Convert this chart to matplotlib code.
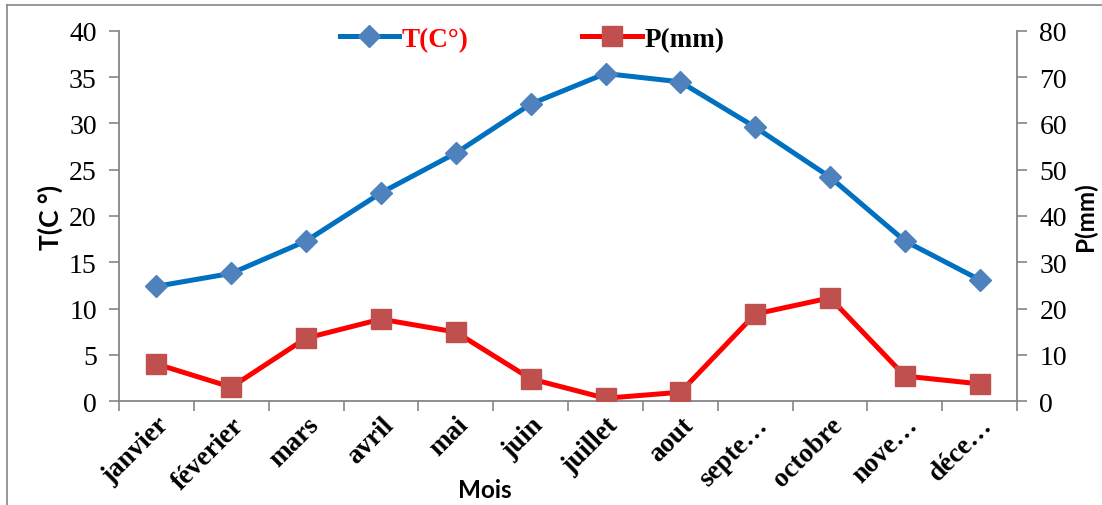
import matplotlib.pyplot as plt
from matplotlib.lines import Line2D

mois = ["janvier", "féverier", "mars", "avril", "mai", "juin", "juillet",
        "aout", "septe…", "octobre", "nove…", "déce…"]
temperature = [12.4, 13.8, 17.3, 22.5, 26.8, 32.1, 35.4, 34.5, 29.6, 24.2, 17.3, 13.1]
precipitation = [8.0, 3.0, 13.6, 17.7, 14.9, 4.8, 0.6, 1.9, 18.8, 22.3, 5.4, 3.7]

serif = "Liberation Serif"
sans = "Lato"
grey = "#868686"

plt.rcParams["font.family"] = [serif, "DejaVu Serif"]

fig = plt.figure(figsize=(11.02, 5.06), dpi=100)
ax = fig.add_axes([0.108, 0.2055, 0.815, 0.7313])
ax2 = ax.twinx()

x = list(range(len(mois)))
l1, = ax.plot(x, temperature, color="#0070C0", lw=3.6, marker="D",
              ms=11, mfc="#4F81BD", mec="#4F81BD", zorder=3)
l2, = ax2.plot(x, precipitation, color="#FF0000", lw=3.6, marker="s",
               ms=14, mfc="#C0504D", mec="#C0504D", zorder=3)

ax.set_xlim(-0.5, len(mois) - 0.5)
ax.set_ylim(0, 40)
ax2.set_ylim(0, 80)
ax.set_yticks(range(0, 41, 5))
ax2.set_yticks(range(0, 81, 10))

# category ticks sit between months, labels under each month
ax.set_xticks([i - 0.5 for i in range(len(mois) + 1)])
ax.set_xticklabels([])
ax.set_xticks(x, minor=True)
ax.set_xticklabels(mois, minor=True, rotation=45, ha="right", va="top",
                   rotation_mode="anchor", fontweight="bold", fontsize=19.5)
ax.tick_params(axis="x", which="minor", length=0, pad=8)
ax.tick_params(axis="x", which="major", length=7, color=grey, width=1.2,
               direction="out")

for a in (ax, ax2):
    for s in a.spines.values():
        s.set_visible(False)
ax.spines["left"].set_visible(True)
ax.spines["bottom"].set_visible(True)
ax2.spines["right"].set_visible(True)
for s in (ax.spines["left"], ax.spines["bottom"], ax2.spines["right"]):
    s.set_color(grey)
    s.set_linewidth(1.3)

ax.tick_params(axis="y", length=7, color=grey, width=1.2, labelsize=20, pad=9)
ax2.tick_params(axis="y", length=7, color=grey, width=1.2, labelsize=20, pad=9)

ax.set_ylabel("T(C °)", fontfamily=sans, fontweight="bold", fontsize=19,
              labelpad=4)
ax2.set_ylabel("P(mm)", fontfamily=sans, fontweight="bold", fontsize=17.5,
               labelpad=5)
fig.text(0.44, 0.03, "Mois", fontfamily=sans, fontweight="bold",
         fontsize=17.5, ha="center", va="center")

leg = ax.legend([l1, l2], ["T(C°)", "P(mm)"], ncol=2, loc="center",
                bbox_to_anchor=(0.46, 0.978), frameon=False,
                handlelength=2.2, columnspacing=4.2, handletextpad=0.1,
                prop={"family": serif, "weight": "bold", "size": 19.5})
leg.get_texts()[0].set_color("#FF0000")
leg.get_texts()[1].set_color("black")

# chart frame (top and left edges)
fig.add_artist(Line2D([7 / 1102, 1.0], [1 - 6 / 506] * 2, color=grey, lw=1.2))
fig.add_artist(Line2D([7 / 1102] * 2, [0.0, 1 - 6 / 506], color=grey, lw=1.2))

fig.savefig("out.png", dpi=100)
